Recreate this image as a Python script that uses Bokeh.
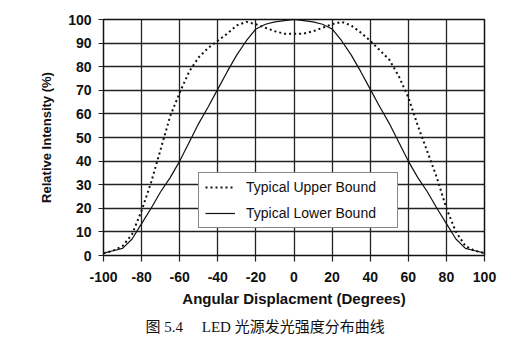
from bokeh.plotting import figure
from bokeh.models import Range1d, FixedTicker, Legend, LegendItem, Title
from bokeh.embed import file_html
from bokeh.resources import INLINE

angle_deg = [-100, -95, -90, -85, -80, -75, -70, -65, -60, -55, -50, -45, -40, -35, -30, -25, -20, -15, -10, -5, 0,
             5, 10, 15, 20, 25, 30, 35, 40, 45, 50, 55, 60, 65, 70, 75, 80, 85, 90, 95, 100]
upper_bound = [1, 2, 4, 9, 19, 31, 45, 59, 69, 78, 84, 88, 91, 94, 97.5, 99, 98, 96.5, 95, 94, 94,
               94, 95, 96.5, 98, 99, 97.5, 94.5, 91, 87, 83, 76, 67, 55, 44, 33, 20, 10, 4, 2, 1]
lower_bound = [1, 2, 3, 7, 13.5, 20, 27, 33, 40, 48, 56, 63, 70.5, 78, 85, 91, 96, 98, 99, 99.5, 100,
               99.5, 99, 98, 96, 91, 85, 78, 70.5, 63, 56, 48, 40, 33, 27, 20, 13.5, 7, 3, 2, 1]
x_ticks = [-100, -80, -60, -40, -20, 0, 20, 40, 60, 80, 100]
y_ticks = [0, 10, 20, 30, 40, 50, 60, 70, 80, 90, 100]
legend_labels = ["Typical Upper Bound", "Typical Lower Bound"]
x_title = "Angular Displacment (Degrees)"
y_title = "Relative Intensity (%)"
caption = "图 5.4\u2003 LED 光源发光强度分布曲线"

p = figure(width=530, height=350, output_backend="svg", toolbar_location=None,
           x_range=Range1d(-100, 100), y_range=Range1d(0, 100),
           frame_width=381, frame_height=236,
           min_border_left=103, min_border_right=46, min_border_top=19, min_border_bottom=95)
p.background_fill_color = "white"
p.border_fill_color = "white"
p.outline_line_color = "#111111"
p.outline_line_width = 1.5

for ax, ticks in ((p.xaxis[0], x_ticks), (p.yaxis[0], y_ticks)):
    ax.ticker = FixedTicker(ticks=ticks)
    ax.major_label_overrides = {t: str(t) for t in ticks}
    ax.major_label_text_font = "Liberation Sans"
    ax.major_label_text_font_style = "bold"
    ax.major_label_text_font_size = "14px"
    ax.major_label_text_color = "#111111"
    ax.axis_label_text_font = "Liberation Sans"
    ax.axis_label_text_font_style = "bold"
    ax.axis_label_text_color = "#111111"
    ax.axis_line_color = None
    ax.major_tick_line_color = "#222222"
    ax.major_tick_line_width = 1.2
    ax.major_tick_in = 0
    ax.minor_tick_line_color = None

p.xaxis.major_tick_out = 6
p.xaxis.major_label_standoff = 10
p.xaxis.axis_label = x_title
p.xaxis.axis_label_text_font_size = "15px"
p.xaxis.axis_label_standoff = 5

p.yaxis.major_tick_out = 5
p.yaxis.major_label_standoff = 7
p.yaxis.axis_label = y_title
p.yaxis.axis_label_text_font_size = "13px"
p.yaxis.axis_label_standoff = 11

p.xgrid.ticker = FixedTicker(ticks=x_ticks)
p.ygrid.ticker = FixedTicker(ticks=y_ticks)
for g in (p.xgrid[0], p.ygrid[0]):
    g.grid_line_color = "#222222"
    g.grid_line_width = 1.3
    g.grid_line_alpha = 1.0

r_up = p.line(angle_deg, upper_bound, line_color="#111111", line_width=2, line_dash="2 3")
r_lo = p.line(angle_deg, lower_bound, line_color="#111111", line_width=1.2)

legend = Legend(items=[LegendItem(label=legend_labels[0], renderers=[r_up]),
                       LegendItem(label=legend_labels[1], renderers=[r_lo])],
                location=(95, 27), margin=0, padding=6, spacing=10,
                label_height=16, glyph_height=16, glyph_width=30, label_width=145,
                label_standoff=11,
                label_text_font="Liberation Sans", label_text_font_size="14px",
                label_text_color="#111111",
                border_line_color="#111111", border_line_width=1.2,
                background_fill_color="white", background_fill_alpha=1.0)
p.add_layout(legend, "center")

p.add_layout(Title(text=caption, align="left", offset=42, standoff=14,
                   text_font="Liberation Serif, Noto Sans CJK SC", text_font_style="normal",
                   text_font_size="15px", text_color="#111111"), "below")

open("out.html", "w").write(file_html(p, INLINE))
